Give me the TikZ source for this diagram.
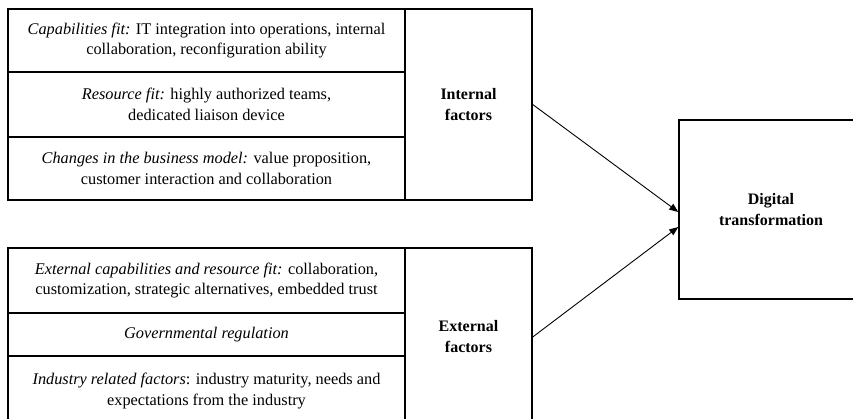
\documentclass[tikz,border=0pt]{standalone}
\usepackage{fontspec}
\setmainfont{Liberation Serif}
\usetikzlibrary{arrows.meta}

\tikzset{
  cell/.style={draw, line width=1.4pt, minimum width=397pt, inner sep=0pt,
    align=center, font=\fontsize{16.3}{20.5}\selectfont},
  sidebox/.style={draw, line width=1.4pt, minimum width=127pt, inner sep=0pt,
    align=center, font=\fontsize{16}{21}\selectfont\bfseries},
  flow/.style={-{Triangle[length=9pt,width=7pt]}, line width=0.9pt}
}

\begin{document}
\begin{tikzpicture}[x=1pt, y=-1pt]
\useasboundingbox (0,0) rectangle (853,419);
\clip (0,0) rectangle (853,419);
% internal factors
\node[cell, minimum height=63pt] (cap) at (206.5,40.5) {\textit{Capabilities fit:} IT integration into operations, internal\\ collaboration, reconfiguration ability};
\node[cell, minimum height=65pt] (res) at (206.5,104.5) {\textit{Resource fit:} highly authorized teams,\\ dedicated liaison device};
\node[cell, minimum height=63pt] (chg) at (206.5,168.5) {\textit{Changes in the business model:} value proposition,\\ customer interaction and collaboration};
\node[sidebox, minimum height=191pt] (intf) at (468.5,104.5) {Internal\\ factors};
% external factors
\node[cell, minimum height=65pt] (extcap) at (206.5,280.5) {\textit{External capabilities and resource fit:} collaboration,\\ customization, strategic alternatives, embedded trust};
\node[cell, minimum height=43pt] (gov) at (206.5,334.5) {\textit{Governmental regulation}};
\node[cell, minimum height=70pt] (ind) at (206.5,391) {\textit{Industry related factors}: industry maturity, needs and\\ expectations from the industry};
\node[sidebox, minimum height=178pt] (extf) at (468.5,337) {External\\ factors};
% outcome
\node[sidebox, minimum width=184pt, minimum height=179pt] (dt) at (771,209.5) {Digital\\ transformation};
\draw[flow] (intf.east) -- ([yshift=-2.5pt]dt.west);
\draw[flow] (extf.east) -- ([yshift=-17.5pt]dt.west);
\end{tikzpicture}
\end{document}
